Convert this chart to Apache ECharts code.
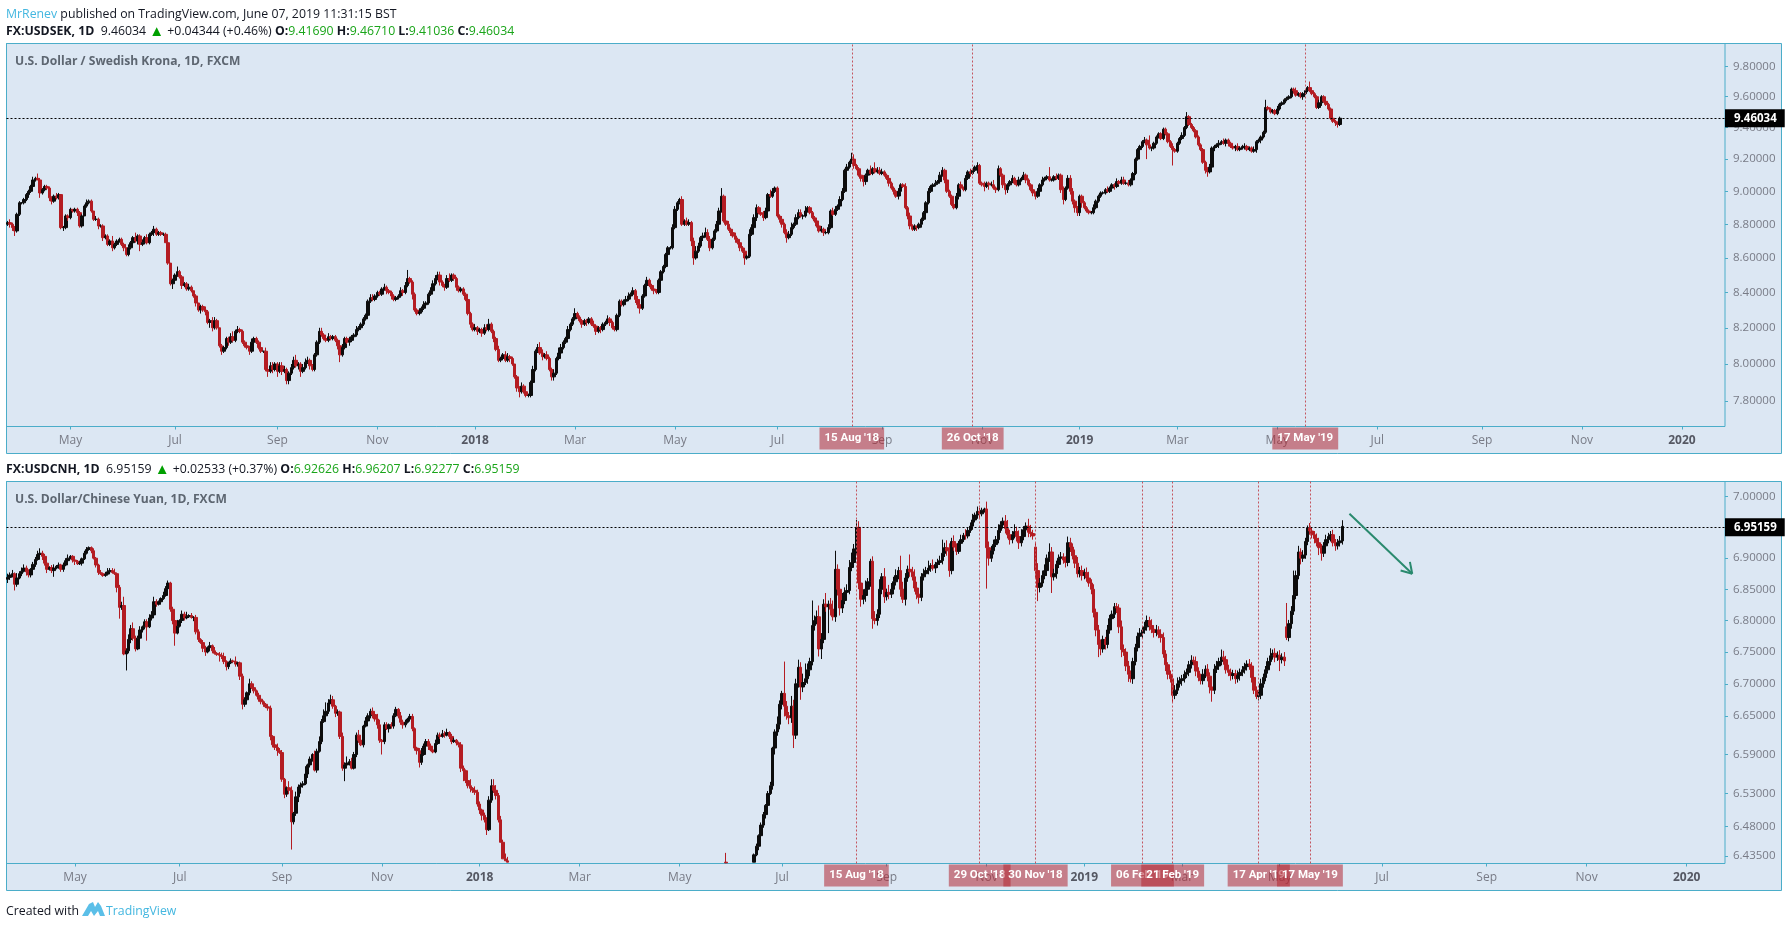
<!DOCTYPE html><html><head><meta charset="utf-8"><script src="https://cdn.jsdelivr.net/npm/echarts@6/dist/echarts.min.js"></script></head><body style="margin:0;background:#fff"><div id="c" style="width:1788px;height:927px"></div><script>
const slotCount=739;
const sekTicks=[7.8,8,8.2,8.4,8.6,8.8,9,9.2,9.4,9.6,9.8];
const cnhTicks=[6.435,6.48,6.53,6.59,6.65,6.7,6.75,6.8,6.85,6.9,7];
const sekTimeIdx=[27,72,116,159,201,244,287,331,376,419,461,503,546,589,634,677,720];
const cnhTimeIdx=[29,74,118,161,203,246,289,333,378,421,463,505,547,591,636,679,722];
const timeLabels=['May','Jul','Sep','Nov','2018','Mar','May','Jul','Sep','Nov','2019','Mar','May','Jul','Sep','Nov','2020'];
const sekLast=9.46034, cnhLast=6.95159;
const sekMarkerIdx=[363,415,558];
const sekMarkerText=["15 Aug '18","26 Oct '18","17 May '19"];
const cnhMarkerIdx=[365,418,442,488,501,538,560];
const cnhMarkerText=["15 Aug '18","29 Oct '18","30 Nov '18","06 Feb '19","21 Feb '19","17 Apr '19","17 May '19"];
const arrowSegs=[[[577,6.972],[604,6.875]],[[599,6.880],[604,6.875]],[[603,6.894],[604,6.875]]];

const sekFirstOpen=8.80;
const sekClose=[
8.81,8.80,8.78,8.76,8.86,8.93,8.93,8.95,8.98,9.00,
9.03,9.07,9.08,9.07,8.99,9.01,9.03,9.02,8.96,8.94,
8.97,8.96,8.98,8.78,8.78,8.85,8.84,8.89,8.88,8.89,
8.87,8.79,8.85,8.91,8.93,8.94,8.88,8.83,8.83,8.79,
8.79,8.72,8.73,8.68,8.70,8.66,8.68,8.70,8.71,8.68,
8.66,8.62,8.66,8.69,8.72,8.70,8.73,8.68,8.69,8.72,
8.69,8.74,8.75,8.77,8.74,8.75,8.74,8.74,8.69,8.57,
8.45,8.47,8.50,8.52,8.49,8.44,8.45,8.42,8.43,8.41,
8.38,8.34,8.30,8.32,8.30,8.29,8.23,8.24,8.20,8.24,
8.20,8.10,8.07,8.09,8.14,8.12,8.15,8.13,8.18,8.19,
8.18,8.12,8.10,8.09,8.07,8.12,8.14,8.12,8.09,8.07,
8.07,7.97,7.96,7.99,7.97,8.00,7.96,7.99,7.96,7.97,
7.91,7.95,7.98,8.02,7.99,8.00,7.96,7.98,8.01,8.02,
7.99,7.97,8.05,8.12,8.18,8.16,8.14,8.13,8.15,8.14,
8.15,8.13,8.10,8.05,8.09,8.14,8.12,8.13,8.15,8.16,
8.19,8.20,8.22,8.25,8.27,8.35,8.37,8.36,8.38,8.40,
8.39,8.42,8.43,8.41,8.40,8.38,8.36,8.37,8.38,8.41,
8.40,8.44,8.48,8.46,8.39,8.30,8.28,8.29,8.31,8.33,
8.34,8.39,8.41,8.45,8.48,8.50,8.46,8.44,8.43,8.48,
8.47,8.50,8.48,8.43,8.41,8.42,8.39,8.36,8.28,8.22,
8.19,8.20,8.18,8.19,8.17,8.20,8.19,8.22,8.18,8.14,
8.08,8.02,8.03,8.05,8.02,8.04,8.03,8.00,7.93,7.87,
7.85,7.88,7.85,7.83,7.83,7.90,7.97,8.07,8.09,8.06,
8.04,8.05,8.03,7.97,7.93,7.95,8.03,8.06,8.09,8.12,
8.14,8.19,8.22,8.25,8.28,8.26,8.24,8.22,8.24,8.23,
8.25,8.22,8.21,8.18,8.20,8.19,8.22,8.23,8.25,8.23,
8.20,8.19,8.27,8.35,8.33,8.35,8.36,8.38,8.39,8.41,
8.36,8.33,8.31,8.38,8.44,8.47,8.44,8.42,8.41,8.40,
8.47,8.52,8.55,8.62,8.66,8.66,8.78,8.89,8.93,8.95,
8.80,8.82,8.80,8.81,8.70,8.60,8.64,8.67,8.72,8.73,
8.75,8.71,8.66,8.71,8.76,8.80,8.88,8.97,8.82,8.80,
8.77,8.75,8.73,8.71,8.69,8.66,8.64,8.60,8.61,8.74,
8.78,8.84,8.90,8.87,8.86,8.84,8.88,8.98,8.97,9.00,
9.02,8.85,8.83,8.80,8.75,8.72,8.74,8.78,8.80,8.84,
8.87,8.85,8.85,8.88,8.90,8.87,8.84,8.82,8.79,8.76,
8.77,8.75,8.75,8.78,8.88,8.86,8.89,8.91,8.95,9.00,
9.13,9.15,9.18,9.20,9.16,9.14,9.10,9.08,9.06,9.10,
9.13,9.11,9.14,9.12,9.13,9.11,9.12,9.10,9.08,9.05,
9.02,9.00,8.97,9.00,9.04,9.03,8.90,8.85,8.79,8.77,
8.79,8.78,8.80,8.83,8.87,8.93,9.00,9.03,9.04,9.05,
9.06,9.10,9.13,9.07,9.00,8.97,8.92,8.90,8.97,9.04,
9.02,9.01,9.08,9.12,9.11,9.13,9.15,9.16,9.05,9.04,
9.03,9.05,9.04,9.04,9.02,9.01,9.14,9.10,9.04,9.01,
9.04,9.06,9.08,9.05,9.04,9.07,9.08,9.10,9.07,9.04,
9.01,8.99,8.97,9.00,9.04,9.07,9.08,9.09,9.07,9.07,
9.09,9.08,9.10,9.01,8.95,9.02,9.08,9.00,8.94,8.90,
8.87,8.97,8.93,8.90,8.88,8.87,8.87,8.90,8.94,8.97,
8.99,8.99,9.01,9.00,9.02,9.04,9.03,9.06,9.05,9.07,
9.05,9.05,9.04,9.07,9.11,9.20,9.26,9.28,9.31,9.32,
9.29,9.27,9.27,9.30,9.34,9.36,9.33,9.39,9.36,9.31,
9.28,9.26,9.25,9.30,9.33,9.35,9.40,9.47,9.42,9.40,
9.38,9.34,9.29,9.26,9.18,9.13,9.12,9.15,9.27,9.28,
9.29,9.30,9.31,9.30,9.32,9.30,9.28,9.27,9.28,9.26,
9.27,9.28,9.28,9.26,9.27,9.25,9.26,9.31,9.32,9.34,
9.37,9.53,9.52,9.50,9.51,9.49,9.52,9.55,9.56,9.58,
9.59,9.60,9.65,9.64,9.61,9.62,9.60,9.62,9.64,9.66,
9.64,9.62,9.60,9.53,9.56,9.60,9.57,9.55,9.52,9.46,
9.44,9.43,9.42,9.46034];
const sekHighWick=[
1,2,1,1,1,1,0,1,1,1,
1,2,1,3,1,1,1,1,1,1,
1,2,1,0,1,1,1,1,0,1,
1,1,1,1,2,1,1,0,2,1,
1,1,1,1,1,3,1,1,1,1,
1,0,2,1,1,3,1,1,2,1,
2,1,1,2,1,1,1,1,1,0,
0,1,1,3,1,1,1,1,2,1,
0,1,0,1,1,2,1,1,2,2,
1,0,1,1,1,1,2,3,1,2,
1,1,1,1,1,2,1,1,1,1,
0,2,1,2,2,1,1,2,2,2,
1,1,2,2,3,1,1,2,2,2,
1,1,1,1,2,2,1,1,2,1,
1,1,1,1,2,1,1,2,1,1,
2,1,1,1,1,1,2,2,1,1,
1,1,2,1,1,1,1,1,1,2,
1,2,5,1,1,1,1,2,1,2,
1,1,2,2,2,2,2,1,1,2,
3,1,1,1,1,1,1,1,0,1,
1,2,1,1,1,2,2,3,1,1,
1,2,1,1,2,2,1,1,0,1,
1,2,1,2,1,1,2,1,2,3,
2,1,2,1,1,2,1,3,2,1,
1,2,1,1,3,1,1,1,1,1,
1,1,2,1,1,1,1,1,2,1,
1,1,1,1,1,1,2,2,1,2,
1,2,1,1,1,2,1,1,1,1,
1,1,1,1,1,1,2,2,1,1,
2,1,2,2,1,2,3,2,1,2,
3,2,2,1,1,2,2,5,1,2,
2,1,1,2,1,1,1,2,1,3,
2,2,2,1,1,2,2,1,3,2,
1,1,1,2,1,2,2,3,1,2,
2,2,1,3,1,1,1,1,2,1,
2,1,1,2,1,2,2,1,2,2,
1,2,1,4,3,1,1,1,2,1,
1,3,1,4,2,2,2,1,1,2,
1,1,1,2,1,1,2,1,2,1,
1,0,1,1,1,1,2,1,1,2,
1,2,2,1,1,1,1,1,2,1,
2,1,2,1,2,1,1,2,1,1,
2,1,1,2,3,1,2,1,1,1,
1,1,2,1,2,2,1,2,1,1,
1,1,1,2,1,2,1,1,6,1,
1,2,1,1,2,1,2,2,2,1,
1,1,1,1,1,1,1,2,1,1,
1,1,1,2,1,1,1,2,1,2,
2,1,2,1,1,1,1,1,1,2,
1,6,1,1,1,1,1,1,1,1,
1,2,1,1,1,2,1,3,1,1,
1,1,1,1,1,1,2,2,1,1,
1,2,1,2,1,1,1,1,1,2,
1,1,2,1,1,1,2,1,1,1,
1,5,1,1,1,1,2,1,1,1,
1,1,1,1,2,1,1,1,1,1,
4,1,1,1,2,1,1,1,1,1,
1,1,1,1];
const sekLowWick=[
1,2,2,3,1,1,1,1,1,2,
1,1,1,0,3,1,1,1,2,2,
1,1,1,1,2,1,2,1,1,1,
2,1,1,0,1,1,1,1,1,2,
1,2,1,1,1,2,1,1,1,1,
2,1,1,1,1,1,2,4,1,1,
1,1,1,2,1,1,1,1,0,1,
1,3,1,1,1,2,1,1,1,1,
1,2,1,2,1,2,1,3,2,1,
1,1,2,1,1,2,1,1,1,1,
1,1,1,1,2,1,1,1,1,1,
1,1,3,1,2,1,3,1,2,1,
2,2,1,1,1,2,3,1,1,1,
2,1,1,1,1,1,1,1,1,1,
1,1,2,4,1,1,1,2,1,1,
1,1,1,1,1,1,1,1,1,1,
1,1,1,2,1,2,1,1,1,1,
2,1,1,1,3,1,1,1,1,1,
1,1,1,1,1,1,2,1,2,1,
1,1,1,2,1,1,1,1,1,2,
1,1,2,1,2,1,1,1,1,2,
1,1,1,1,1,1,2,1,1,2,
3,1,1,1,1,1,1,1,1,1,
2,1,1,1,2,2,1,1,1,1,
1,1,1,1,1,1,1,2,1,2,
1,1,1,2,1,2,1,1,1,2,
1,1,1,1,1,1,1,1,2,1,
2,2,3,1,1,1,1,1,2,1,
1,1,1,1,1,1,1,1,1,1,
1,1,1,1,3,4,1,1,1,2,
1,1,2,1,1,1,1,1,1,1,
1,2,1,2,1,2,1,4,1,1,
1,1,2,1,1,2,1,1,1,1,
1,1,2,2,1,3,1,1,1,1,
1,1,2,1,1,1,1,1,1,1,
1,2,1,1,1,1,1,1,1,1,
1,1,1,1,2,1,1,2,3,2,
1,1,1,1,1,1,1,1,1,2,
1,2,1,2,3,1,1,2,2,1,
1,2,1,2,1,1,1,1,1,1,
1,1,1,2,1,1,1,1,1,2,
1,1,1,1,2,1,1,4,1,1,
3,1,3,1,1,2,1,1,2,3,
2,1,1,1,1,1,1,1,2,1,
1,2,2,1,1,1,1,1,1,1,
1,1,1,2,3,1,1,2,2,3,
2,2,3,1,1,1,1,1,1,1,
1,1,1,1,1,1,2,1,1,1,
1,1,1,1,1,1,1,1,1,1,
9,1,2,1,1,1,1,1,1,1,
1,10,1,1,1,1,1,1,1,1,
1,1,1,1,1,2,3,1,1,2,
1,2,1,1,2,2,1,1,2,1,
1,1,2,1,1,1,1,2,1,2,
1,1,1,1,1,1,1,1,1,1,
1,1,1,2,1,1,1,2,1,1,
1,1,1,1,1,2,1,1,1,1,
1,2,2,1];

const cnhFirstOpen=6.866;
const cnhEarlyClose=[
6.869,6.873,6.875,6.858,6.868,6.875,6.879,6.884,6.878,6.873,
6.882,6.890,6.898,6.906,6.908,6.903,6.892,6.882,6.885,6.880,
6.884,6.887,6.889,6.882,6.889,6.896,6.900,6.903,6.897,6.895,
6.891,6.892,6.899,6.908,6.914,6.917,6.912,6.900,6.889,6.877,
6.875,6.872,6.874,6.878,6.880,6.877,6.875,6.853,6.821,6.824,
6.747,6.752,6.770,6.787,6.772,6.755,6.772,6.785,6.790,6.798,
6.790,6.804,6.809,6.830,6.826,6.830,6.835,6.840,6.851,6.860,
6.818,6.800,6.780,6.791,6.800,6.810,6.804,6.806,6.808,6.805,
6.805,6.782,6.770,6.765,6.756,6.750,6.757,6.760,6.752,6.748,
6.746,6.745,6.743,6.735,6.727,6.733,6.736,6.735,6.731,6.733,
6.712,6.668,6.675,6.686,6.700,6.694,6.689,6.682,6.676,6.672,
6.668,6.664,6.662,6.618,6.605,6.601,6.596,6.593,6.552,6.529,
6.539,6.535,6.487,6.500,6.525,6.540,6.543,6.545,6.560,6.574,
6.583,6.590,6.566,6.595,6.610,6.641,6.650,6.657,6.670,6.675,
6.665,6.654,6.656,6.618,6.569,6.574,6.577,6.579,6.569,6.590,
6.620,6.612,6.605,6.634,6.642,6.650,6.657,6.652,6.645,6.636,
6.612,6.610,6.636,6.630,6.636,6.634,6.650,6.660,6.650,6.640,
6.636,6.640,6.645,6.649,6.630,6.600,6.596,6.578,6.590,6.603,
6.610,6.603,6.597,6.594,6.607,6.620,6.618,6.622,6.620,6.624,
6.618,6.610,6.612,6.608,6.605,6.569,6.565,6.550,6.542,6.538,
6.535,6.532,6.514,6.505,6.497,6.490,6.475,6.520,6.542,6.535,
6.527,6.490,6.456,6.431,6.428,6.426];
const cnhEarlyHighWick=[
3,2,3,1,4,2,3,3,2,2,
1,2,2,3,4,2,2,2,1,2,
3,1,2,1,2,2,3,1,1,1,
1,2,1,2,2,1,1,2,1,1,
2,1,2,3,2,2,3,1,2,3,
7,2,4,3,5,2,2,3,1,2,
2,3,3,4,2,1,1,3,2,2,
1,2,1,5,1,3,2,4,1,2,
1,2,2,1,2,2,1,3,1,3,
1,2,2,3,1,1,2,1,4,1,
1,2,2,1,4,2,1,1,2,1,
1,1,1,2,1,3,3,2,2,1,
1,5,3,1,4,2,2,2,6,1,
2,1,3,2,4,2,5,7,3,4,
3,1,2,1,3,2,5,2,3,2,
2,4,2,1,3,2,2,3,2,4,
4,1,2,2,1,2,2,2,1,3,
2,2,1,2,2,1,1,2,5,2,
2,2,2,1,3,2,2,3,2,3,
1,2,2,1,1,2,2,1,2,5,
1,3,2,2,1,2,2,3,5,5,
4,2,3,2,4,3];
const cnhEarlyLowWick=[
3,2,2,5,2,1,2,1,3,2,
2,1,2,1,1,3,2,3,1,2,
5,1,2,2,2,1,2,1,2,3,
1,1,2,1,1,1,2,1,2,2,
1,1,1,1,2,1,1,4,9,2,
1,13,2,3,2,2,1,1,2,2,
11,1,2,1,2,1,2,1,1,1,
2,3,10,1,1,2,2,1,1,1,
3,2,2,1,3,3,1,3,2,1,
1,5,2,2,3,2,1,1,2,2,
3,4,2,1,2,1,2,1,2,2,
2,1,2,3,2,2,4,1,2,3,
2,3,21,2,2,4,5,2,1,3,
2,2,1,2,1,2,1,1,2,1,
2,3,2,2,2,10,2,2,1,1,
2,2,1,2,1,2,2,3,2,3,
2,10,2,1,3,2,2,1,2,2,
3,2,1,2,2,2,3,4,2,1,
1,3,1,1,1,1,2,1,2,1,
2,2,1,2,2,3,8,2,2,3,
2,2,2,3,4,2,4,1,2,2,
3,2,0,0,0,0];
const cnhStubBar=[6.426,6.425,6.4245,6.44];
const cnhStubIdx=309;
const cnhLateStart=321, cnhLateOpen=6.426;
const cnhLateClose=[
6.437,6.450,6.466,6.482,6.498,6.512,6.530,6.542,6.600,
6.625,6.637,6.668,6.685,6.665,6.650,6.647,6.665,6.620,6.700,
6.726,6.695,6.702,6.708,6.722,6.735,6.792,6.800,6.806,6.755,
6.770,6.826,6.822,6.826,6.818,6.806,6.882,6.850,6.820,6.832,
6.845,6.848,6.885,6.893,6.915,6.950,6.860,6.834,6.840,6.850,
6.862,6.895,6.803,6.800,6.810,6.850,6.870,6.838,6.845,6.842,
6.850,6.862,6.872,6.880,6.850,6.834,6.868,6.882,6.878,6.870,
6.852,6.842,6.837,6.870,6.875,6.880,6.884,6.888,6.884,6.890,
6.893,6.896,6.908,6.917,6.912,6.880,6.927,6.918,6.911,6.924,
6.930,6.937,6.936,6.945,6.952,6.962,6.970,6.976,6.972,6.978,
6.980,6.917,6.900,6.912,6.922,6.930,6.945,6.954,6.960,6.948,
6.938,6.930,6.938,6.943,6.935,6.925,6.935,6.946,6.952,6.942,
6.940,6.936,6.880,6.853,6.860,6.872,6.880,6.900,6.910,6.870,
6.875,6.890,6.900,6.902,6.897,6.893,6.925,6.918,6.904,6.892,
6.875,6.880,6.872,6.877,6.868,6.860,6.850,6.813,6.785,6.762,
6.755,6.770,6.762,6.785,6.803,6.810,6.822,6.820,6.790,6.754,
6.750,6.728,6.715,6.708,6.735,6.757,6.775,6.780,6.785,6.790,
6.800,6.792,6.786,6.781,6.785,6.778,6.773,6.747,6.730,6.715,
6.708,6.682,6.690,6.700,6.705,6.708,6.715,6.718,6.730,6.737,
6.735,6.720,6.710,6.705,6.715,6.723,6.712,6.695,6.690,6.723,
6.728,6.735,6.742,6.738,6.722,6.718,6.713,6.716,6.708,6.713,
6.718,6.722,6.727,6.731,6.728,6.710,6.690,6.680,6.682,6.700,
6.710,6.722,6.735,6.744,6.748,6.742,6.745,6.738,6.742,6.736,
6.773,6.795,6.815,6.840,6.872,6.910,6.900,6.905,6.927,6.949,
6.944,6.938,6.932,6.925,6.917,6.908,6.920,6.930,6.935,6.938,
6.925,6.920,6.925,6.928,6.95159];
const cnhOpenGaps={442:6.918,550:6.79};
const cnhLateHighWick=[
1,2,1,2,2,1,2,3,1,
2,6,3,2,25,4,3,8,5,4,
6,4,7,12,5,3,20,4,5,9,
5,4,9,3,5,7,15,4,3,6,
4,5,6,8,4,6,5,4,5,7,
3,2,4,6,4,8,3,7,3,6,
5,4,5,3,12,6,4,3,12,4,
6,5,3,3,4,3,6,2,5,2,
3,4,11,4,6,6,3,5,3,2,
4,2,5,2,3,5,2,4,3,2,
1,6,5,4,4,3,5,3,3,5,
7,4,3,6,4,5,6,3,3,6,
6,3,4,6,4,4,5,3,7,4,
4,3,3,4,3,3,5,4,3,5,
5,3,4,3,4,5,3,4,3,4,
4,3,2,4,3,3,3,3,3,5,
4,3,4,3,3,3,3,4,3,4,
4,3,5,3,4,3,4,4,3,2,
3,3,4,5,3,3,3,3,3,4,
3,4,3,3,4,3,4,3,3,4,
4,3,6,5,3,4,3,3,3,4,
3,3,3,3,4,3,3,3,3,4,
3,3,3,6,3,4,3,4,3,4,
19,3,4,20,4,5,3,4,3,2,
4,3,3,4,4,3,3,4,3,3,
4,3,3,4,5];
const cnhLateLowWick=[
0,1,3,2,2,3,2,1,3,
5,3,4,4,8,3,5,4,10,3,
3,10,4,2,4,5,3,4,3,6,
8,3,4,21,5,3,4,5,6,4,
3,4,3,3,2,4,5,6,4,5,
3,4,8,3,4,3,4,5,3,4,
3,4,3,3,6,3,5,3,4,3,
3,4,5,3,3,2,3,3,2,4,
3,2,3,3,4,5,3,3,3,2,
3,2,3,2,2,3,2,3,4,2,
2,33,6,3,3,2,3,2,3,4,
3,4,3,3,4,5,3,3,3,4,
3,3,6,11,4,3,3,4,3,13,
3,4,3,3,3,4,3,4,3,4,
3,3,4,3,3,3,4,4,5,10,
5,3,4,3,3,3,3,4,5,6,
3,4,6,3,4,3,3,3,4,3,
3,4,3,4,3,3,4,3,5,4,
3,6,3,3,3,4,3,3,3,3,
3,4,3,3,3,3,4,5,9,3,
3,3,3,4,3,3,4,3,4,3,
4,3,3,3,3,4,3,2,3,3,
3,3,3,3,3,4,3,9,3,4,
2,3,4,3,3,3,5,3,3,3,
3,3,4,3,6,6,3,3,3,4,
3,4,3,3,3];

const blue='#4badc9', pane='#dce7f3', grey='#787b86', red='#b41c22', font='"Open Sans"', tagFont='Roboto';
function pushBars(out,start,closes,firstOpen,hi,lo,unit,gaps){
  let prev=firstOpen;
  closes.forEach((c,k)=>{
    const idx=start+k, o=(gaps&&gaps[idx])||prev;
    out[idx]=[o,c,Math.min(o,c)-(lo[k]||0)*unit,Math.max(o,c)+(hi[k]||0)*unit];
    prev=c;
  });
}
const emptyBars=()=>Array.from({length:slotCount},()=>['-','-','-','-']);
const sekBars=emptyBars(); pushBars(sekBars,0,sekClose,sekFirstOpen,sekHighWick,sekLowWick,0.01);
const cnhBars=emptyBars();
pushBars(cnhBars,0,cnhEarlyClose,cnhFirstOpen,cnhEarlyHighWick,cnhEarlyLowWick,0.002);
cnhBars[cnhStubIdx]=cnhStubBar;
pushBars(cnhBars,cnhLateStart,cnhLateClose,cnhLateOpen,cnhLateHighWick,cnhLateLowWick,0.002,cnhOpenGaps);
const slots=Array.from({length:slotCount},(_,i)=>String(i));

function xAxis(g,idx){
  const lab={}; idx.forEach((v,i)=>lab[v]=timeLabels[i]);
  return {type:'category',gridIndex:g,data:slots,boundaryGap:true,
    axisLine:{show:false},
    axisTick:{show:true,customValues:idx,length:3,alignWithLabel:true,lineStyle:{color:blue}},
    splitLine:{show:false},
    axisLabel:{customValues:idx,margin:8,fontFamily:font,fontSize:12,hideOverlap:false,
      formatter:v=>{const t=lab[v];return /^\d/.test(t)?'{y|'+t+'}':t;},
      color:grey,rich:{y:{color:'#555863',fontFamily:font,fontSize:12,fontWeight:'bold'}}}};
}
function yAxis(g,min,max,ticks){
  return {type:'log',logBase:Math.E,gridIndex:g,position:'right',min,max,
    axisLine:{show:false},splitLine:{show:false},
    axisTick:{show:true,customValues:ticks,length:3,lineStyle:{color:blue}},
    axisLabel:{customValues:ticks,margin:8,showMinLabel:true,showMaxLabel:true,
      fontFamily:font,fontSize:11.5,color:grey,formatter:v=>(+v).toFixed(5)}};
}
function marks(last,idx,text,extra){
  const data=[{yAxis:last,lineStyle:{color:'#000',type:[2,2],width:1},
    label:{show:true,position:'end',distance:0,formatter:last.toFixed(5),backgroundColor:'#000',color:'#fff',
      fontFamily:font,fontSize:11.5,fontWeight:'bold',padding:[3,8,3,9]}}];
  idx.forEach((v,i)=>data.push({xAxis:v,lineStyle:{color:'#c4555e',type:[2,2],width:1},
    label:{show:true,position:'start',distance:1,formatter:text[i],backgroundColor:'rgba(178,40,51,.55)',color:'#fff',
      fontFamily:tagFont,fontSize:11.5,fontWeight:'bold',padding:[5,5]}}));
  return {symbol:'none',silent:true,animation:false,label:{show:false},data:data.concat(extra||[])};
}
function candle(g,bars,m){
  return {type:'candlestick',xAxisIndex:g,yAxisIndex:g,data:bars,large:false,barWidth:3,
    itemStyle:{color:'#0c0c0c',color0:red,borderColor:'#0c0c0c',borderColor0:red,borderWidth:1},markLine:m};
}
const up='#1aa51a', rich={b:{fontWeight:'bold',color:'#131722'},u:{color:'#00a000',fontSize:15},g:{color:up},l:{color:'#44b7e0'}};
function quote(sym,top,last,chg,pct,o,h,l,c){
  return {left:6,top,padding:0,textStyle:{fontFamily:font,fontSize:12.3,fontWeight:'normal',color:'#131722',rich},
    text:`{b|${sym}, 1D}  ${last} {u|▲} ${chg} (${pct}) {b|O:}{g|${o}} {b|H:}{g|${h}} {b|L:}{g|${l}} {b|C:}{g|${c}}`};
}
const wm=(t,top)=>({left:15,top,padding:0,text:t,textStyle:{fontFamily:font,fontSize:12.1,fontWeight:'bold',color:'#5d6671'}});
const arrow=arrowSegs.map(s=>[{coord:s[0],lineStyle:{color:'#2a8a6e',width:2,type:'solid'}},{coord:s[1]}]);
echarts.init(document.getElementById('c')).setOption({
  animation:false,backgroundColor:'#fff',
  title:[
    {left:6,top:8,padding:0,text:'{l|MrRenev} published on TradingView.com, June 07, 2019 11:31:15 BST',textStyle:{fontFamily:font,fontSize:12.3,fontWeight:'normal',color:'#131722',rich}},
    quote('FX:USDSEK',24,'9.46034','+0.04344','+0.46%','9.41690','9.46710','9.41036','9.46034'),
    quote('FX:USDCNH',462,'6.95159','+0.02533','+0.37%','6.92626','6.96207','6.92277','6.95159'),
    wm('U.S. Dollar / Swedish Krona, 1D, FXCM',56),
    wm('U.S. Dollar/Chinese Yuan, 1D, FXCM',493.5),
    {left:6,top:905,padding:0,text:'Created with',textStyle:{fontFamily:font,fontSize:12.3,fontWeight:'normal',color:'#131722'}},
    {left:106,top:905,padding:0,text:'TradingView',textStyle:{fontFamily:font,fontSize:12.3,fontWeight:'normal',color:'#44b7e0'}}
  ],
  graphic:{elements:[
    {type:'rect',z:-10,shape:{x:6.5,y:43.5,width:1775,height:410},style:{fill:pane,stroke:blue,lineWidth:1}},
    {type:'rect',z:-10,shape:{x:6.5,y:481.5,width:1775,height:409},style:{fill:pane,stroke:blue,lineWidth:1}},
    {type:'polygon',shape:{points:[[82,916],[89,904],[93,902],[95,907],[98,902],[101,906],[105,916],[100,916],[98,911],[94,916],[91,911],[88,916]]},style:{fill:'#5bbfe8'}}
  ]},
  grid:[
    {left:6.5,right:63,top:43.5,height:383,show:true,borderColor:blue,borderWidth:1,backgroundColor:'transparent'},
    {left:6.5,right:63,top:481.5,height:382,show:true,borderColor:blue,borderWidth:1,backgroundColor:'transparent'}
  ],
  xAxis:[xAxis(0,sekTimeIdx),xAxis(1,cnhTimeIdx)],
  yAxis:[yAxis(0,7.666,9.955,sekTicks),yAxis(1,6.424,7.025,cnhTicks)],
  series:[candle(0,sekBars,marks(sekLast,sekMarkerIdx,sekMarkerText)),candle(1,cnhBars,marks(cnhLast,cnhMarkerIdx,cnhMarkerText,arrow))]
});
</script></body></html>
